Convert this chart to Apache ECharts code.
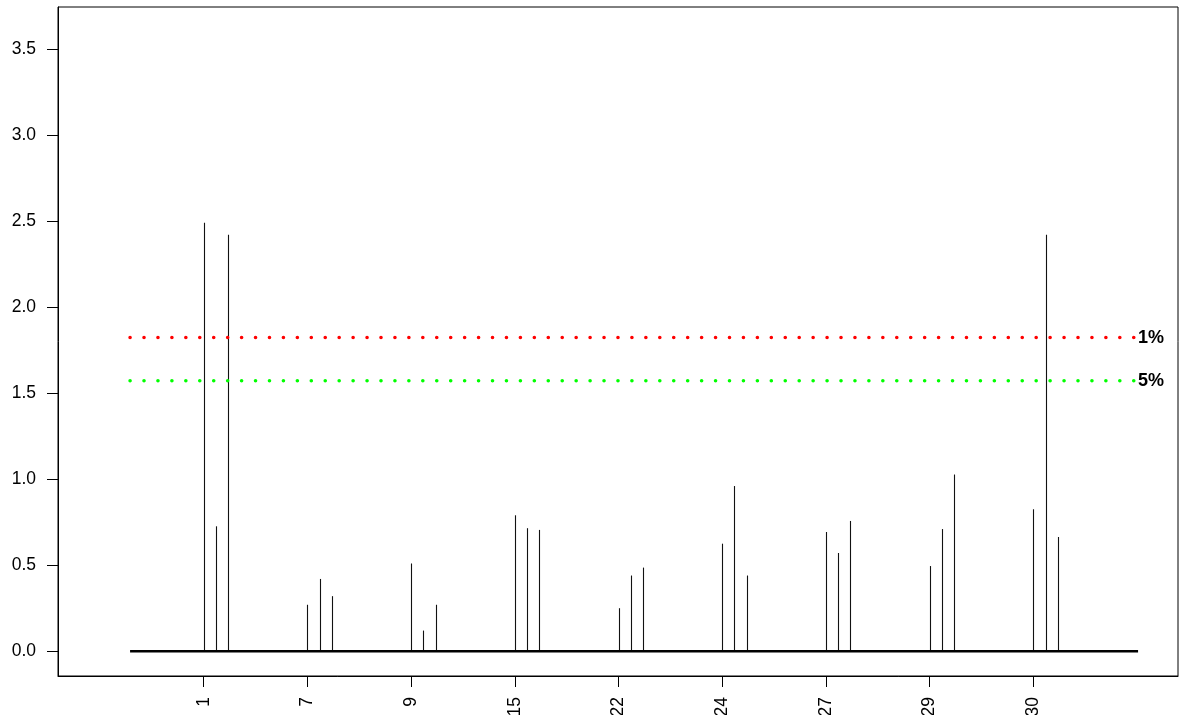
<!DOCTYPE html>
<html>
<head>
<meta charset="utf-8">
<script src="https://cdn.jsdelivr.net/npm/echarts@6/dist/echarts.min.js"></script>
<style>
html,body{margin:0;padding:0;background:#fff;}
#c{width:1179px;height:715px;}
</style>
</head>
<body>
<div id="c"></div>
<script>
// Data
const groupLabels = ['1', '7', '9', '15', '22', '24', '27', '29', '30'];
const seriesA = [2.49, 0.27, 0.51, 0.79, 0.25, 0.625, 0.693, 0.495, 0.825];
const seriesB = [0.726, 0.42, 0.12, 0.715, 0.44, 0.96, 0.571, 0.71, 2.42];
const seriesC = [2.42, 0.32, 0.27, 0.705, 0.486, 0.44, 0.757, 1.027, 0.664];
const threshold1 = 1.823;
const threshold5 = 1.572;
const yTicks = [0, 0.5, 1.0, 1.5, 2.0, 2.5, 3.0, 3.5];

const STEP = 0.118;
const LINE_START = 0.29, LINE_END = 10.01;

const spikes = [];
groupLabels.forEach((g, i) => {
  const base = i + 1;
  spikes.push([base, seriesA[i]]);
  spikes.push([base + STEP, seriesB[i]]);
  spikes.push([base + 2 * STEP, seriesC[i]]);
});
const xTickVals = groupLabels.map((g, i) => i + 1);

const font = 'Liberation Sans, Arial, Helvetica, sans-serif';
const chart = echarts.init(document.getElementById('c'), null, {renderer: 'canvas'});
chart.setOption({
  animation: false,
  backgroundColor: '#fff',
  grid: {left: 58, top: 7, right: 1, bottom: 39, containLabel: false, outerBoundsMode: 'none',
         show: true, borderColor: '#000', borderWidth: 1, backgroundColor: 'transparent'},
  xAxis: {
    type: 'value', min: -0.405, max: 10.395,
    axisLine: {show: true, onZero: false, lineStyle: {color: '#000', width: 1}},
    splitLine: {show: false},
    axisTick: {show: true, length: 11, inside: false, customValues: xTickVals, lineStyle: {color: '#000', width: 1}},
    axisLabel: {
      show: true, customValues: xTickVals, rotate: 90, margin: 21,
      fontFamily: font, fontSize: 17.5, color: '#000',
      formatter: v => groupLabels[Math.round(v) - 1] || ''
    }
  },
  yAxis: {
    type: 'value', min: -0.144, max: 3.744,
    axisLine: {show: true, onZero: false, lineStyle: {color: '#000', width: 1}},
    splitLine: {show: false},
    axisTick: {show: true, length: 11, inside: false, customValues: yTicks, lineStyle: {color: '#000', width: 1}},
    axisLabel: {
      show: true, customValues: yTicks, margin: 22,
      fontFamily: font, fontSize: 17.5, color: '#000',
      formatter: v => v.toFixed(1)
    }
  },
  series: [
    {
      type: 'custom',
      data: spikes,
      renderItem: function (params, api) {
        const p0 = api.coord([api.value(0), 0]);
        const p1 = api.coord([api.value(0), api.value(1)]);
        return {
          type: 'line',
          shape: {x1: Math.round(p0[0]) + 0.5, y1: p0[1], x2: Math.round(p1[0]) + 0.5, y2: p1[1]},
          style: {stroke: '#111', lineWidth: 1.1}
        };
      },
      silent: true
    },
    {
      type: 'line', symbol: 'none', silent: true,
      data: [[LINE_START, 0], [LINE_END, 0]],
      lineStyle: {color: '#000', width: 2.5}
    },
    {
      type: 'line', symbol: 'none', silent: true,
      data: [[LINE_START, threshold1], [LINE_END, threshold1]],
      lineStyle: {color: '#ff0000', width: 3.6, type: [0.01, 13.93], cap: 'round'},
      endLabel: {show: true, formatter: '1%', fontFamily: font, fontWeight: 'bold', fontSize: 18, color: '#000', distance: 0}
    },
    {
      type: 'line', symbol: 'none', silent: true,
      data: [[LINE_START, threshold5], [LINE_END, threshold5]],
      lineStyle: {color: '#00ff00', width: 3.6, type: [0.01, 13.93], cap: 'round'},
      endLabel: {show: true, formatter: '5%', fontFamily: font, fontWeight: 'bold', fontSize: 18, color: '#000', distance: 0}
    }
  ]
});
</script>
</body>
</html>
